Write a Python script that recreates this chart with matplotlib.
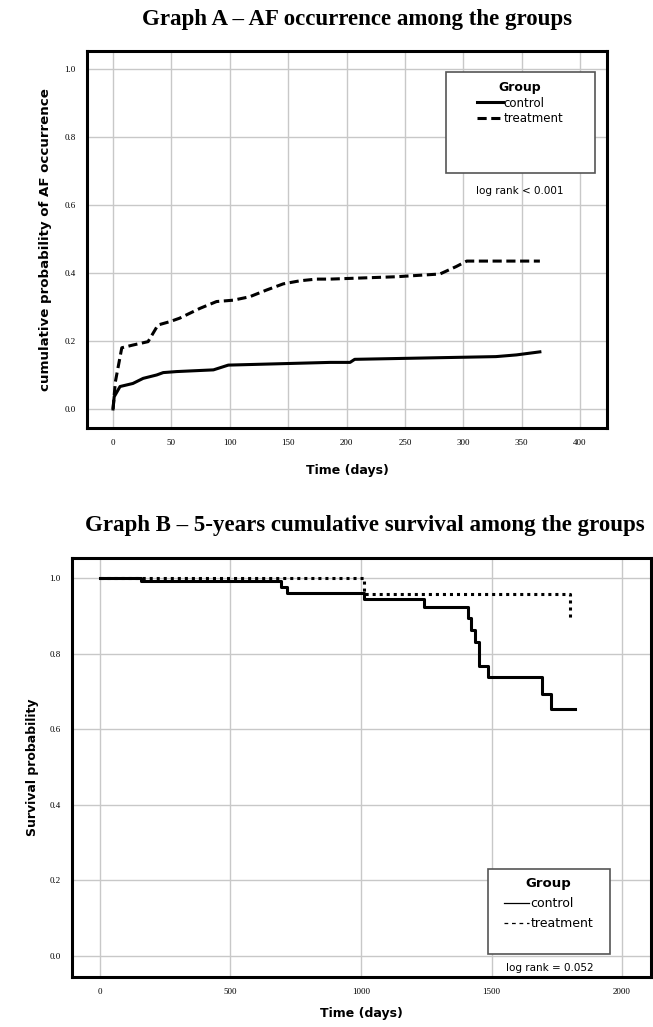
import matplotlib
matplotlib.use("Agg")
import matplotlib.pyplot as plt
from matplotlib.patches import Rectangle

# Graph A: cumulative probability of AF occurrence
a_control_days = [0, 1, 6, 17, 25.8, 37.4, 43, 54.5, 86, 98.7, 186, 203, 207, 328, 345.5, 365.6]
a_control_prob = [0.0, 0.036, 0.066, 0.075, 0.09, 0.1, 0.107, 0.11, 0.115, 0.129, 0.137, 0.137, 0.146, 0.154, 0.159, 0.168]
a_treat_days = [0, 2, 7.5, 17, 30, 38.5, 48.8, 57, 74.5, 88.7, 103, 117, 131.6, 145.8, 160, 174, 186, 243, 280, 294, 303, 365.6]
a_treat_prob = [0.0, 0.08, 0.18, 0.188, 0.198, 0.247, 0.257, 0.267, 0.296, 0.316, 0.32, 0.33, 0.35, 0.368, 0.377, 0.382, 0.382, 0.389, 0.397, 0.419, 0.435, 0.435]
a_xticks = [0, 50, 100, 150, 200, 250, 300, 350, 400]
a_yticks = [0.0, 0.2, 0.4, 0.6, 0.8, 1.0]

# Graph B: 5-year survival
b_control_days = [0, 159, 694, 715, 1011, 1243, 1409, 1423, 1438, 1452, 1488, 1695, 1727, 1821]
b_control_surv = [1.0, 0.991, 0.976, 0.961, 0.945, 0.923, 0.893, 0.863, 0.831, 0.767, 0.737, 0.694, 0.653, 0.653]
b_treat_days = [0, 1011, 1799]
b_treat_surv = [1.0, 0.957, 0.888]
b_xticks = [0, 500, 1000, 1500, 2000]
b_yticks = [0.0, 0.2, 0.4, 0.6, 0.8, 1.0]

W, H = 653, 1027
fig = plt.figure(figsize=(W / 100, H / 100), dpi=100)

title_font = dict(family="Liberation Serif", weight="bold", size=16.5)
grid_col = "#c8c8c8"


def style_axes(ax, xticks, yticks, xlim, ylim, lw_spine):
	ax.set_xlim(*xlim)
	ax.set_ylim(*ylim)
	ax.set_xticks(xticks)
	ax.set_yticks(yticks)
	ax.set_xticklabels(["%d" % v for v in xticks], family="Liberation Serif", size=6.5)
	ax.set_yticklabels(["%.1f" % v for v in yticks], family="Liberation Serif", size=6.5)
	ax.tick_params(length=0, pad=8)
	ax.grid(True, color=grid_col, lw=1)
	ax.set_axisbelow(True)
	for s in ax.spines.values():
		s.set_linewidth(lw_spine)
		s.set_color("black")


# ---- Graph A ----
axA = fig.add_axes([87 / W, 1 - 428 / H, 520 / W, 377 / H])
style_axes(axA, a_xticks, a_yticks, (-22.3, 423.1), (-0.056, 1.053), 2.2)
lc, = axA.plot(a_control_days, a_control_prob, color="black", lw=2.2, label="control")
lt, = axA.plot(a_treat_days, a_treat_prob, color="black", lw=2.2, ls=(0, (3, 1.5)), label="treatment")
axA.set_xlabel("Time (days)", labelpad=12, family="DejaVu Sans", weight="bold", size=9)
axA.set_ylabel("cumulative probability of AF occurrence", labelpad=9,
	family="DejaVu Sans", weight="bold", size=9.6)

axA.add_patch(Rectangle((0.690, 0.676), 0.287, 0.268, transform=axA.transAxes,
	fill=True, facecolor="white", edgecolor="#555555", lw=1.2, zorder=3))
legA = axA.legend(handles=[lc, lt], title="Group", frameon=False, loc="upper center",
	bbox_to_anchor=(0.833, 0.945), prop=dict(family="DejaVu Sans", size=8.5),
	handlelength=2.2, handletextpad=0.1, labelspacing=0.2, borderpad=0.3)
legA.get_title().set_fontweight("bold")
legA.get_title().set_fontsize(9)
legA.set_zorder(4)
axA.text(0.833, 0.629, "log rank < 0.001", transform=axA.transAxes, ha="center", va="center",
	family="DejaVu Sans", size=7.5)

fig.text(357 / W, 1 - 19 / H, "Graph A \u2013 AF occurrence among the groups", ha="center", va="center", **title_font)

# ---- Graph B ----
axB = fig.add_axes([72 / W, 1 - 977 / H, 579 / W, 419 / H])
style_axes(axB, b_xticks, b_yticks, (-107, 2111), (-0.056, 1.053), 2.2)
axB.plot(b_control_days, b_control_surv, color="black", lw=2.2, drawstyle="steps-post")
axB.plot(b_treat_days, b_treat_surv, color="black", lw=2.2, ls=(0, (1, 1.3)), drawstyle="steps-post")
hc, = axB.plot([], [], color="black", lw=0.9, label="control")
ht, = axB.plot([], [], color="black", lw=0.9, ls=(0, (3, 3)), label="treatment")
axB.set_xlabel("Time (days)", labelpad=8, family="DejaVu Sans", weight="bold", size=9)
axB.set_ylabel("Survival probability", labelpad=8, family="DejaVu Sans", weight="bold", size=9)

axB.add_patch(Rectangle((0.718, 0.055), 0.211, 0.203, transform=axB.transAxes,
	fill=True, facecolor="white", edgecolor="#555555", lw=1.2, zorder=3))
legB = axB.legend(handles=[hc, ht], title="Group", frameon=False, loc="upper center",
	bbox_to_anchor=(0.823, 0.262), prop=dict(family="DejaVu Sans", size=9),
	handlelength=2.0, handletextpad=0.1, labelspacing=0.55, borderpad=0.3)
legB.get_title().set_fontweight("bold")
legB.get_title().set_fontsize(9.5)
legB.set_zorder(4)
axB.text(0.826, 0.021, "log rank = 0.052", transform=axB.transAxes, ha="center", va="center",
	family="DejaVu Sans", size=7.5)

fig.text(365 / W, 1 - 526 / H, "Graph B \u2013 5-years cumulative survival among the groups", ha="center", va="center", **title_font)

fig.savefig("out.png", dpi=100)
